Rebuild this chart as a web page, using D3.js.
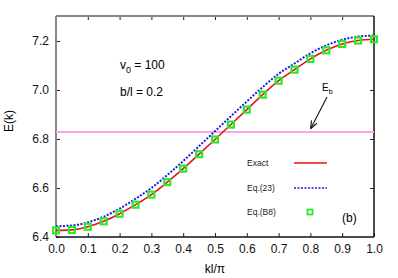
<!DOCTYPE html>
<html>
<head>
<meta charset="utf-8">
<script src="https://cdn.jsdelivr.net/npm/d3@7"></script>
<style>
  body { margin: 0; background: #fff; }
  text { font-family: "Liberation Sans", Arial, sans-serif; }
</style>
</head>
<body>
<svg id="chart" width="398" height="278"></svg>
<script>
// data
var kValues = [0, 0.05, 0.1, 0.15, 0.2, 0.25, 0.3, 0.35, 0.4, 0.45, 0.5,
               0.55, 0.6, 0.65, 0.7, 0.75, 0.8, 0.85, 0.9, 0.95, 1.0];
var exactE = [6.427, 6.429, 6.442, 6.464, 6.495, 6.532, 6.573, 6.624, 6.679, 6.738, 6.798,
              6.859, 6.920, 6.981, 7.038, 7.083, 7.127, 7.162, 7.188, 7.202, 7.207];
var eq23E = [6.444, 6.447, 6.460, 6.483, 6.516, 6.556, 6.600, 6.653, 6.710, 6.771, 6.832,
             6.893, 6.953, 7.012, 7.066, 7.108, 7.150, 7.182, 7.205, 7.218, 7.222];
var eqB8E = exactE.slice();
var Eb = 6.829;
var xTicks = [0, 0.1, 0.2, 0.3, 0.4, 0.5, 0.6, 0.7, 0.8, 0.9, 1.0];
var yTicks = [6.4, 6.6, 6.8, 7.0, 7.2];

var svg = d3.select("#chart");
var m = {left: 56, right: 374, top: 16, bottom: 237};

var x = d3.scaleLinear().domain([0, 1]).range([m.left, m.right]);
var y = d3.scaleLinear().domain([6.4, 7.302]).range([m.bottom, m.top]);

// ticks, all pointing inward
svg.append("g").attr("transform", "translate(0," + m.bottom + ")")
    .call(d3.axisBottom(x).tickValues(xTicks).tickSize(-4).tickPadding(7).tickFormat(d3.format(".1f")))
    .call(g => g.select(".domain").remove());
svg.append("g").attr("transform", "translate(0," + m.top + ")")
    .call(d3.axisTop(x).tickValues(xTicks.slice(1, -1)).tickSize(-4).tickFormat(""))
    .call(g => g.select(".domain").remove());
svg.append("g").attr("transform", "translate(" + m.left + ",0)")
    .call(d3.axisLeft(y).tickValues(yTicks).tickSize(-4).tickPadding(7).tickFormat(d3.format(".1f")))
    .call(g => g.select(".domain").remove());
svg.append("g").attr("transform", "translate(" + m.right + ",0)")
    .call(d3.axisRight(y).tickValues(yTicks.slice(1)).tickSize(-4).tickFormat(""))
    .call(g => g.select(".domain").remove());

svg.selectAll(".tick text").style("font-size", "12px").attr("fill", "#111");
svg.selectAll(".tick line").attr("stroke", "#222");

// frame
svg.append("line").attr("x1", m.left).attr("x2", m.left).attr("y1", m.top).attr("y2", m.bottom)
    .attr("stroke", "#888").attr("stroke-width", 2);
svg.append("line").attr("x1", m.left).attr("x2", m.right).attr("y1", m.top).attr("y2", m.top)
    .attr("stroke", "#888").attr("stroke-width", 2);
svg.append("line").attr("x1", m.right).attr("x2", m.right).attr("y1", m.top).attr("y2", m.bottom)
    .attr("stroke", "#111").attr("stroke-width", 1.5);
svg.append("line").attr("x1", m.left).attr("x2", m.right).attr("y1", m.bottom).attr("y2", m.bottom)
    .attr("stroke", "#111").attr("stroke-width", 1.5);

// E_b line
svg.append("line").attr("x1", x(0)).attr("x2", x(1)).attr("y1", y(Eb)).attr("y2", y(Eb))
    .attr("stroke", "#f8a6f4").attr("stroke-width", 2);

var line = d3.line().curve(d3.curveMonotoneX);

svg.append("path")
    .attr("d", line(kValues.map((k, i) => [x(k), y(exactE[i])])))
    .attr("fill", "none").attr("stroke", "#ee1111").attr("stroke-width", 1.6);

svg.append("path")
    .attr("d", line(kValues.map((k, i) => [x(k), y(eq23E[i])])))
    .attr("fill", "none").attr("stroke", "#1a1aee").attr("stroke-width", 2)
    .attr("stroke-dasharray", "2,1.5");

svg.selectAll(".pt").data(kValues).enter().append("rect")
    .attr("class", "pt")
    .attr("x", (d, i) => x(d) - 3).attr("y", (d, i) => y(eqB8E[i]) - 3)
    .attr("width", 6).attr("height", 6)
    .attr("fill", "none").attr("stroke", "#2ee82e").attr("stroke-width", 2.2);

// annotations
var t1 = svg.append("text").attr("x", 120).attr("y", 69).style("font-size", "12px");
t1.append("tspan").text("v");
t1.append("tspan").attr("dy", 4).style("font-size", "9px").text("0");
t1.append("tspan").attr("dy", -4).text(" = 100");
svg.append("text").attr("x", 120).attr("y", 96).style("font-size", "12px").text("b/l = 0.2");

var eb = svg.append("text").attr("x", 322).attr("y", 91).style("font-size", "10px");
eb.append("tspan").text("E");
eb.append("tspan").attr("dy", 3).style("font-size", "7px").text("b");

svg.append("defs").append("marker")
    .attr("id", "arr").attr("viewBox", "0 0 10 10").attr("refX", 9).attr("refY", 5)
    .attr("markerWidth", 7).attr("markerHeight", 7).attr("orient", "auto")
    .append("path").attr("d", "M0,1 L10,5 L0,9").attr("fill", "none").attr("stroke", "#111").attr("stroke-width", 1.5);
svg.append("line").attr("x1", 327).attr("y1", 97).attr("x2", 311).attr("y2", 128)
    .attr("stroke", "#111").attr("stroke-width", 1.1).attr("marker-end", "url(#arr)");

// legend
var legend = [
  {label: "Exact", y: 163, type: "red"},
  {label: "Eq.(23)", y: 188, type: "blue"},
  {label: "Eq.(B8)", y: 212, type: "sq"}
];
legend.forEach(function(d) {
    svg.append("text").attr("x", 247).attr("y", d.y + 3).style("font-size", "8.5px").attr("fill", "#222").text(d.label);
    if (d.type === "red") {
        svg.append("line").attr("x1", 294).attr("x2", 327).attr("y1", d.y).attr("y2", d.y)
            .attr("stroke", "#ee1111").attr("stroke-width", 1.6);
    } else if (d.type === "blue") {
        svg.append("line").attr("x1", 294).attr("x2", 327).attr("y1", d.y).attr("y2", d.y)
            .attr("stroke", "#1a1aee").attr("stroke-width", 1.6).attr("stroke-dasharray", "2,1.5");
    } else {
        svg.append("rect").attr("x", 307.5).attr("y", d.y - 2.5).attr("width", 5).attr("height", 5)
            .attr("fill", "none").attr("stroke", "#2ee82e").attr("stroke-width", 1.8);
    }
});
svg.append("text").attr("x", 342).attr("y", 222).style("font-size", "12px").text("(b)");

// axis titles
svg.append("text").attr("x", 215).attr("y", 273).attr("text-anchor", "middle").style("font-size", "12px").text("kl/π");
svg.append("text").attr("transform", "translate(13,121) rotate(-90)").attr("text-anchor", "middle")
    .style("font-size", "12px").text("E(k)");
</script>
</body>
</html>
